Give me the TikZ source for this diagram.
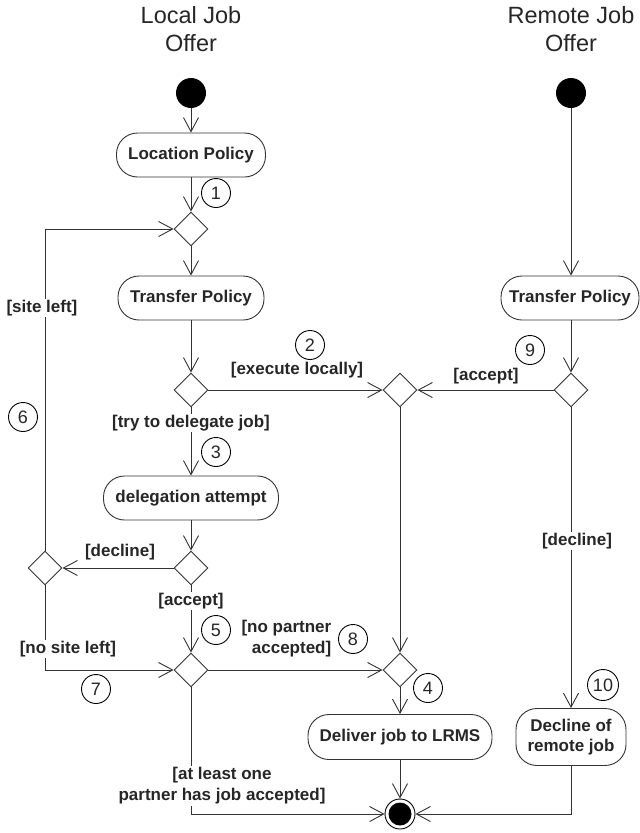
\documentclass[tikz,border=0pt]{standalone}
\usepackage{fontspec}
\setmainfont{Liberation Sans}
\usetikzlibrary{arrows.meta,shapes.geometric}
\definecolor{ln}{HTML}{333333}
\definecolor{tx}{HTML}{262626}
\tikzset{
  arr/.style={draw=ln, line width=0.9pt, -{Straight Barb[length=14pt,width=15pt,line width=0.9pt]}},
  plain/.style={draw=ln, line width=0.9pt},
  action/.style={draw=ln, line width=0.9pt, rounded corners=21pt, inner sep=0pt, align=center, text=tx,
     font=\fontsize{17}{20}\selectfont\bfseries, minimum height=44pt},
  decision/.style={draw=ln, line width=0.9pt, diamond, inner sep=0pt, minimum width=34pt, minimum height=34pt, fill=white},
  startnode/.style={circle, fill=black, inner sep=0pt, minimum size=30pt},
  endnode/.style={circle, draw=black, line width=0.9pt, fill=white, inner sep=0pt, minimum size=30pt,
     path picture={\fill[black] (path picture bounding box.center) circle (11.5pt);}},
  num/.style={circle, draw=black, line width=0.9pt, inner sep=0pt, minimum size=29pt, text=tx,
     font=\fontsize{18}{20}\selectfont},
  guard/.style={text=tx, font=\fontsize{17}{21}\selectfont\bfseries, inner sep=1.5pt, align=center},
  title/.style={text=tx, font=\fontsize{23.5}{28}\selectfont, align=center},
}
\begin{document}
\begin{tikzpicture}[x=1pt,y=-1pt]
\useasboundingbox (0,0) rectangle (640,833);
% titles
\node[title] (t1) at (191,29) {Local Job\\Offer};
\node[title] (t2) at (571,29) {Remote Job\\Offer};
% nodes
\node[startnode] (ls) at (191,93) {};
\node[startnode] (rs) at (571,93) {};
\node[action, minimum width=149pt] (lp) at (191,155) {Location Policy};
\node[decision] (d1) at (191,229) {};
\node[action, minimum width=146pt] (tp1) at (191,298) {Transfer Policy};
\node[action, minimum width=138pt] (tp2) at (570,298) {Transfer Policy};
\node[decision] (d2) at (191,390) {};
\node[decision] (d3) at (400,390) {};
\node[decision] (d9) at (571,390) {};
\node[action, minimum width=175pt] (da) at (191,498) {delegation attempt};
\node[decision] (d4) at (191,568) {};
\node[decision] (d6) at (45,568) {};
\node[decision] (d5) at (191,670) {};
\node[decision] (d8) at (400,670) {};
\node[action, minimum width=184pt, minimum height=45pt] (dl) at (400,737) {Deliver job to LRMS};
\node[action, minimum width=110pt, minimum height=57pt] (dc) at (571,737) {Decline of\\remote job};
\node[endnode] (fin) at (400,814) {};
% connectors
\draw[arr] (ls) -- (lp);
\draw[arr] (lp) -- (d1.north);
\draw[arr] (d6.north) |- (d1.west);
\draw[arr] (d1.south) -- (tp1);
\draw[arr] (tp1) -- (d2.north);
\draw[arr] (d2.east) -- (d3.west);
\draw[arr] (d9.west) -- (d3.east);
\draw[arr] (rs) -- (rs |- tp2.north);
\draw[arr] (tp2.south -| d9) -- (d9.north);
\draw[arr] (d2.south) -- (da);
\draw[arr] (da) -- (d4.north);
\draw[arr] (d4.west) -- (d6.east);
\draw[arr] (d6.south) |- (d5.west);
\draw[arr] (d4.south) -- (d5.north);
\draw[arr] (d5.east) -- (d8.west);
\draw[arr] (d3.south) -- (d8.north);
\draw[arr] (d8.south) -- (dl);
\draw[arr] (dl) -- (fin);
\draw[arr] (d5.south) |- (fin.west);
\draw[arr] (d9.south) -- (dc);
\draw[arr] (dc.south) |- (fin.east);
% guards
\node[guard, fill=white] (g1) at (42,308) {[site left]};
\node[guard] (g2) at (297,370) {[execute locally]};
\node[guard] (g3) at (486,376) {[accept]};
\node[guard, fill=white] (g4) at (191,423) {[try to delegate job]};
\node[guard] (g5) at (120,552) {[decline]};
\node[guard, fill=white] (g6) at (191,601) {[accept]};
\node[guard, fill=white] (g7) at (68,649) {[no site left]};
\node[guard, align=right, anchor=east] (g8) at (333,639) {[no partner\\accepted]};
\node[guard, fill=white] (g9) at (577,541) {[decline]};
\node[guard, fill=white] (g10) at (222,786) {[at least one\\partner has job accepted]};
% numbers
\node[num] (n1) at (216,193) {1};
\node[num] (n2) at (310,345) {2};
\node[num] (n3) at (216,452) {3};
\node[num] (n4) at (428,688) {4};
\node[num] (n5) at (216,630) {5};
\node[num] (n6) at (23,417) {6};
\node[num] (n7) at (96,689) {7};
\node[num] (n8) at (353,639) {8};
\node[num] (n9) at (530,350) {9};
\node[num, minimum size=31pt] (n10) at (603,685) {10};
\end{tikzpicture}
\end{document}
